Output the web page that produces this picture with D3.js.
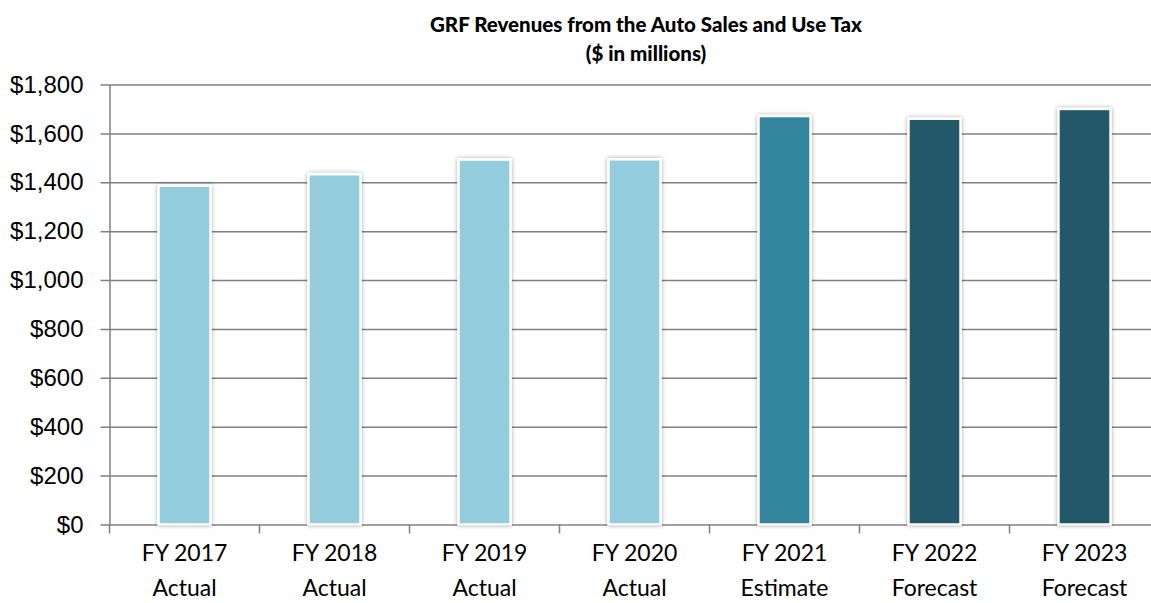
<!DOCTYPE html>
<html>
<head>
<meta charset="utf-8">
<script src="https://cdn.jsdelivr.net/npm/d3@7"></script>
<style>
    body { margin: 0; background: #fff; }
    svg { display: block; font-family: Lato, 'Open Sans', sans-serif; }
</style>
</head>
<body>
<svg class="canvas" width="1151" height="603"></svg>
<script>
// chart data
const years = ['FY 2017', 'FY 2018', 'FY 2019', 'FY 2020', 'FY 2021', 'FY 2022', 'FY 2023'];
const kinds = ['Actual', 'Actual', 'Actual', 'Actual', 'Estimate', 'Forecast', 'Forecast'];
const revenues = [1386, 1433, 1493, 1494, 1671, 1660, 1700];
const yTicks = [0, 200, 400, 600, 800, 1000, 1200, 1400, 1600, 1800];
const titleLines = ['GRF Revenues from the Auto Sales and Use Tax', '($ in millions)'];

const colorByKind = { Actual: '#93cddd', Estimate: '#31859c', Forecast: '#215968' };

const svg = d3.select('.canvas');
const plot = { left: 109.5, top: 84.5, bottom: 524.5, right: 1159.5 };

// scales
const xScale = d3
    .scaleBand()
    .domain(years)
    .range([plot.left, plot.right])
    .paddingInner(0.653)
    .paddingOuter(0.3265);
const yScale = d3
    .scaleLinear()
    .domain([0, 1800])
    .range([plot.bottom, plot.top]);

// shadow for the bars
const defs = svg.append('defs');
defs.append('filter')
    .attr('id', 'shadow')
    .attr('x', '-30%').attr('y', '-10%')
    .attr('width', '160%').attr('height', '120%')
    .append('feDropShadow')
    .attr('dx', 0).attr('dy', 0)
    .attr('stdDeviation', 2)
    .attr('flood-color', '#000')
    .attr('flood-opacity', 0.35);

// title
svg.append('text')
    .attr('x', 646)
    .attr('y', 32)
    .attr('text-anchor', 'middle')
    .style('font-weight', '900')
    .style('font-size', '20.5px')
    .selectAll('tspan')
    .data(titleLines)
    .enter()
    .append('tspan')
    .attr('x', 646)
    .attr('dy', (d, i) => (i === 0 ? 0 : 29))
    .text((d) => d);

// y axis with gridlines
const yAxis = d3
    .axisLeft(yScale)
    .tickValues(yTicks)
    .tickSize(-(plot.right - plot.left))
    .tickSizeOuter(0)
    .tickPadding(26)
    .tickFormat((v) => '$' + d3.format(',')(v));
const yG = svg.append('g')
    .attr('transform', `translate(${plot.left}, 0)`)
    .call(yAxis);
yG.select('.domain').attr('stroke', '#808080').attr('stroke-width', 1.5);
yG.selectAll('.tick line')
    .attr('x1', -9)
    .attr('stroke', '#808080')
    .attr('stroke-width', 1.5);
yG.selectAll('.tick text')
    .style('font-size', '24px')
    .attr('fill', '#000');

// x axis: ticks between categories
const xAxis = d3
    .axisBottom(xScale)
    .tickSize(0)
    .tickFormat('');
const xG = svg.append('g')
    .attr('transform', `translate(0, ${plot.bottom})`)
    .call(xAxis);
xG.select('.domain').remove();
xG.selectAll('.sep')
    .data(d3.range(years.length + 1))
    .enter()
    .append('line')
    .attr('x1', (i) => plot.left + i * xScale.step())
    .attr('x2', (i) => plot.left + i * xScale.step())
    .attr('y1', 0)
    .attr('y2', 9)
    .attr('stroke', '#808080')
    .attr('stroke-width', 1.5);

// category labels, two lines
const labels = svg.append('g')
    .selectAll('text')
    .data(years)
    .enter()
    .append('text')
    .attr('text-anchor', 'middle')
    .style('font-size', '23px')
    .attr('fill', '#000');
labels.append('tspan')
    .attr('x', (d) => xScale(d) + xScale.bandwidth() / 2)
    .attr('y', 561)
    .text((d) => d);
labels.append('tspan')
    .attr('x', (d) => xScale(d) + xScale.bandwidth() / 2)
    .attr('y', 596)
    .text((d, i) => kinds[i]);

// bars
svg.append('g')
    .selectAll('rect')
    .data(years)
    .enter()
    .append('rect')
    .attr('x', (d) => xScale(d))
    .attr('y', (d, i) => yScale(revenues[i]))
    .attr('width', xScale.bandwidth())
    .attr('height', (d, i) => plot.bottom - yScale(revenues[i]))
    .attr('fill', (d, i) => colorByKind[kinds[i]])
    .attr('stroke', '#fff')
    .attr('stroke-width', 2.5)
    .attr('filter', 'url(#shadow)');
</script>
</body>
</html>
